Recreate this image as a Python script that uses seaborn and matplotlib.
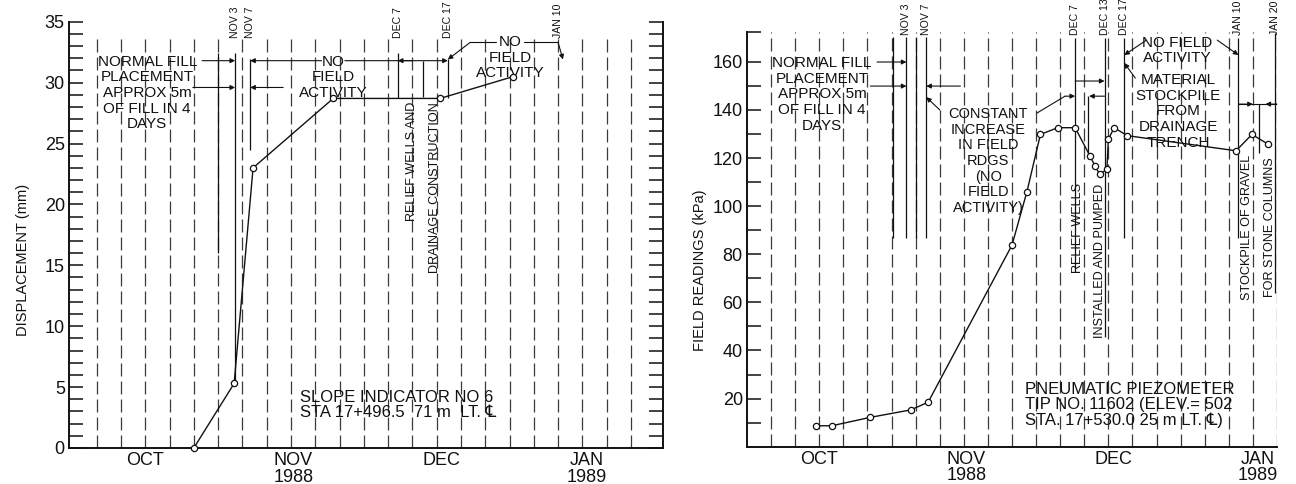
import matplotlib
matplotlib.use('Agg')
import matplotlib.pyplot as plt
from matplotlib import font_manager as fm
from matplotlib.ticker import MultipleLocator, FixedLocator
import seaborn as sns

# x values are days counted from 1 Oct 1988
# slope indicator no 6 (left panel)
sl_day = [25.0, 33.3, 37.2, 53.7, 75.7, 90.8]
sl_mm = [0.0, 5.3, 23.0, 28.7, 28.7, 30.5]

# pneumatic piezometer tip 11602 (right panel)
pz_day = [14.3, 17.6, 25.6, 34.0, 37.6, 55.0, 58.1, 60.9, 64.5, 68.1,
          71.2, 72.2, 73.2, 74.7, 75.0, 76.2, 78.9, 101.5, 104.8, 108.1]
pz_kpa = [8.7, 8.7, 12.2, 15.3, 18.5, 83.8, 106.0, 129.8, 132.6, 132.6,
          120.8, 116.8, 113.2, 115.3, 127.8, 132.6, 129.3, 123.0, 129.8, 125.8]

month_pos = [15, 45.5, 76, 106]
month_lbl = ['OCT', 'NOV\n1988', 'DEC', 'JAN\n1989']

ev_left_lbl = ['NOV 3', 'NOV 7', 'DEC 7', 'DEC 17', 'JAN 10']
ev_left_day = [33.5, 36.6, 67.0, 77.3, 100.0]
ev_right_lbl = ['NOV 3', 'NOV 7', 'DEC 7', 'DEC 13', 'DEC 17', 'JAN 10', 'JAN 20']
ev_right_day = [33.1, 37.2, 68.1, 74.2, 78.3, 102.0, 109.6]

INK = '#111111'
GRID = '#3a3a3a'

sns.set_style('white')
plt.rcParams['font.family'] = ['Liberation Sans', 'DejaVu Sans']

_fonts = {f.name for f in fm.fontManager.ttflist}
NARROW = 'Liberation Sans Narrow' if 'Liberation Sans Narrow' in _fonts else 'Liberation Sans'
NS = 1.0 if NARROW == 'Liberation Sans Narrow' else 0.84

fig = plt.figure(figsize=(12.96, 4.84), dpi=100)
fig.patch.set_facecolor('white')
axL = fig.add_axes([69/1296, 1-448/484, 594/1296, (448-21.7)/484])
axR = fig.add_axes([747/1296, 1-446.7/484, 530/1296, (446.7-31.7)/484])


def frame(ax, xlim, ylim, right_spine):
    ax.set_xlim(*xlim)
    ax.set_ylim(*ylim)
    ax.spines['top'].set_visible(False)
    ax.spines['right'].set_visible(right_spine)
    for s in ax.spines.values():
        s.set_linewidth(1.4)
        s.set_color(INK)
    ax.set_xticks(month_pos)
    ax.set_xticklabels(month_lbl)
    ax.tick_params(axis='x', length=0, pad=3, labelsize=13, colors=INK)
    ax.tick_params(axis='y', which='both', direction='in', length=10, width=1.1,
                   left=True, right=right_spine, labelsize=13, pad=3, colors=INK)
    for t in ax.get_xticklabels():
        t.set_linespacing(0.95)
    ax.set_xlabel('')


def grid(ax, days, top=1.0):
    for d in days:
        ax.axvline(d, ymax=top, color=GRID, lw=0.9, dashes=(10.4, 4), zorder=1)


def arrow(ax, tail, head, both=False):
    ax.annotate('', xy=head, xytext=tail,
                arrowprops=dict(arrowstyle='<|-|>' if both else '-|>', color=INK,
                                lw=0.8, mutation_scale=7, shrinkA=0, shrinkB=0))


def seg(ax, xs, ys):
    ax.plot(xs, ys, color=INK, lw=0.8, zorder=2)


def vtext(ax, x, y, s, size, va='top'):
    ax.text(x, y, s, rotation=90, ha='center', va=va, fontsize=size*NS,
            family=[NARROW, 'DejaVu Sans'], color=INK)


def block(ax, x, y, s, size=11, ha='center', ls=1.15):
    ax.text(x, y, s, ha=ha, va='top', multialignment='center' if ha == 'center' else 'left',
            fontsize=size, linespacing=ls, color=INK)


# ── left panel: displacement ─────────────────────────────────────────────
frame(axL, (-0.7, 121.6), (0, 35), True)
axL.yaxis.set_major_locator(MultipleLocator(5))
axL.yaxis.set_minor_locator(MultipleLocator(1))
grid(axL, range(5, 116, 5), top=33.6/35)
sns.lineplot(x=sl_day, y=sl_mm, ax=axL, sort=False, estimator=None, color=INK, lw=1.0,
             marker='o', markersize=4.5, markerfacecolor='white', markeredgecolor=INK,
             markeredgewidth=0.9, zorder=4, clip_on=False)
axL.set_ylabel('DISPLACEMENT (mm)', fontsize=12.5*NS, family=[NARROW, 'DejaVu Sans'], color=INK)
axL.yaxis.set_label_coords(-0.066, 0.44)

axL.vlines(30.0, 16.0, 32.4, color=INK, lw=0.9)
axL.vlines(ev_left_day[0], sl_mm[1], 32.4, color=INK, lw=0.9)
axL.vlines(ev_left_day[1], 24.5, 31.9, color=INK, lw=0.9)
axL.vlines(ev_left_day[2], 28.7, 32.4, color=INK, lw=0.9)
axL.vlines(72.2, 28.8, 31.8, color=INK, lw=0.9)
axL.vlines(ev_left_day[3], 28.7, 31.9, color=INK, lw=0.9)
for d, s in zip(ev_left_day, ev_left_lbl):
    vtext(axL, d, 33.7, s, 9, va='bottom')

block(axL, 15.4, 32.3, 'NORMAL FILL\nPLACEMENT\nAPPROX 5m\nOF FILL IN 4\nDAYS')
arrow(axL, (26.7, 31.8), (33.5, 31.8))
arrow(axL, (24.8, 29.6), (33.5, 29.6))
arrow(axL, (43.4, 29.6), (36.6, 29.6))
block(axL, 53.7, 32.3, 'NO\nFIELD\nACTIVITY')
arrow(axL, (51.3, 31.8), (36.6, 31.8))
arrow(axL, (56.1, 31.8), (77.3, 31.8))
arrow(axL, (70.0, 31.8), (67.0, 31.8))
vtext(axL, 69.9, 28.4, 'RELIEF WELLS AND', 10.8)
vtext(axL, 74.7, 28.4, 'DRAINAGE CONSTRUCTION', 10.8)

block(axL, 90.1, 33.9, 'NO\nFIELD\nACTIVITY')
arrow(axL, (81.9, 33.3), (77.3, 31.9))
seg(axL, [81.9, 87.2], [33.3, 33.3])
seg(axL, [93.0, 100.0], [33.3, 33.3])
arrow(axL, (100.0, 33.3), (101.0, 31.9))

block(axL, 46.9, 4.8, 'SLOPE INDICATOR NO 6\nSTA 17+496.5  71 m  LT. \u2104', size=12, ha='left', ls=1.02)

# ── right panel: piezometer readings ─────────────────────────────────────
frame(axR, (0, 110), (0, 172.5), False)
axR.yaxis.set_major_locator(FixedLocator(list(range(20, 161, 20))))
axR.yaxis.set_minor_locator(FixedLocator(list(range(10, 160, 20)) + [172.5]))
grid(axR, range(5, 111, 5))
sns.lineplot(x=pz_day, y=pz_kpa, ax=axR, sort=False, estimator=None, color=INK, lw=1.0,
             marker='o', markersize=4.5, markerfacecolor='white', markeredgecolor=INK,
             markeredgewidth=0.9, zorder=4, clip_on=False)
axR.set_ylabel('FIELD READINGS (kPa)', fontsize=12.5*NS, family=[NARROW, 'DejaVu Sans'], color=INK)
axR.yaxis.set_label_coords(-0.0755, 0.426)

axR.vlines([30.2, ev_right_day[0], 35.1, ev_right_day[1]], 86.7, 170.3, color=INK, lw=0.9)
axR.vlines(ev_right_day[2], 72.6, 169.9, color=INK, lw=0.9)
axR.vlines(ev_right_day[3], 45.6, 169.9, color=INK, lw=0.9)
axR.vlines([ev_right_day[4], ev_right_day[5]], 86.7, 169.9, color=INK, lw=0.9)
axR.vlines(ev_right_day[6], 63.8, 172.0, color=INK, lw=0.9)
axR.vlines(70.8, 119.6, 145.7, color=INK, lw=0.9)
axR.vlines(106.3, 122.0, 142.4, color=INK, lw=0.9)
for d, s in zip(ev_right_day, ev_right_lbl):
    vtext(axR, d, 171.1, s, 9, va='bottom')

block(axR, 15.6, 162.4, 'NORMAL FILL\nPLACEMENT\nAPPROX 5m\nOF FILL IN 4\nDAYS')
arrow(axR, (27.0, 159.9), (33.1, 159.9))
arrow(axR, (25.6, 149.9), (33.1, 149.9))
arrow(axR, (44.3, 149.9), (37.2, 149.9))

block(axR, 50.1, 141.2, 'CONSTANT\nINCREASE\nIN FIELD\nRDGS\n(NO\nFIELD\nACTIVITY)', size=10.5)
arrow(axR, (40.0, 140.0), (37.2, 145.3))
seg(axR, [60.2, 66.0], [138.7, 145.7])
arrow(axR, (66.0, 145.7), (68.1, 145.7))
arrow(axR, (74.2, 145.7), (71.0, 145.7))
arrow(axR, (68.1, 152.0), (74.2, 152.0))
vtext(axR, 68.6, 109.5, 'RELIEF WELLS', 10.8)
vtext(axR, 73.3, 109.5, 'INSTALLED AND PUMPED', 10.8)

block(axR, 89.3, 170.9, 'NO FIELD\nACTIVITY')
arrow(axR, (82.9, 169.0), (78.3, 162.8))
arrow(axR, (97.6, 169.0), (102.0, 162.8))
block(axR, 89.5, 155.3, 'MATERIAL\nSTOCKPILE\nFROM\nDRAINAGE\nTRENCH')
arrow(axR, (80.6, 153.2), (78.3, 159.5))

seg(axR, [102.0, 110.0], [142.4, 142.4])
arrow(axR, (102.0, 142.4), (105.0, 142.4))
arrow(axR, (110.0, 142.4), (107.6, 142.4))
vtext(axR, 103.8, 121.2, 'STOCKPILE OF GRAVEL', 10.8)
vtext(axR, 108.5, 120.4, 'FOR STONE COLUMNS', 10.8)

block(axR, 57.8, 26.8, 'PNEUMATIC PIEZOMETER\nTIP NO. 11602 (ELEV.= 502\nSTA. 17+530.0 25 m LT. \u2104)',
      size=12, ha='left', ls=1.02)

fig.savefig('out.png', dpi=100, facecolor='white')
plt.close(fig)
